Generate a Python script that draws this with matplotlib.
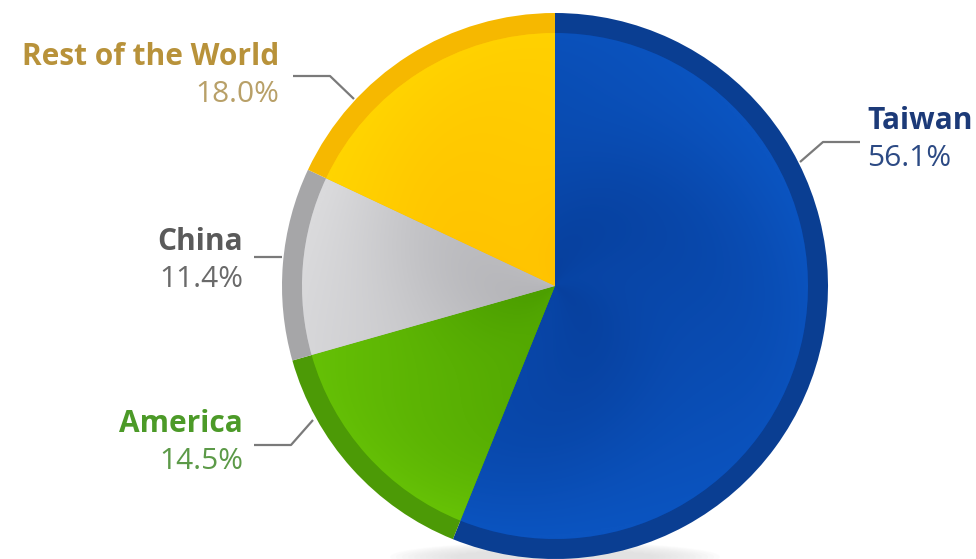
import numpy as np
import matplotlib
matplotlib.use("Agg")
import matplotlib.pyplot as plt
from matplotlib.colors import to_rgb

regions = ["Taiwan", "America", "China", "Rest of the World"]
shares = [56.1, 14.5, 11.4, 18.0]

ring_colors = ["#0a3e92", "#4c9a06", "#a6a6a8", "#f6b800"]
dark_colors = ["#073f9c", "#4a9c00", "#b2b2b6", "#ffbf00"]
light_colors = ["#0b54c0", "#68c406", "#dadadc", "#ffd400"]
name_colors = ["#1c3a78", "#4c9a28", "#5a5a5a", "#b8923a"]
pct_colors = ["#2c4a84", "#5c9a48", "#6a6a6a", "#b8a068"]

W, H = 976, 559
fig = plt.figure(figsize=(W / 100, H / 100), dpi=100)
ax = fig.add_axes([0, 0, 1, 1])
cx, cy, R = 555, 559 - 286, 273
ring = 20

# soft shadow under the pie
for i in range(12):
    e = matplotlib.patches.Ellipse((cx, 2), 330 - i * 12, 30 - i * 1.5,
                                   color="#d8d8d8", alpha=0.08, lw=0)
    ax.add_patch(e)

outer, _ = ax.pie(shares, radius=R, center=(cx, cy), startangle=90,
                  counterclock=False, colors=ring_colors,
                  wedgeprops=dict(linewidth=0))
inner, _ = ax.pie(shares, radius=R - ring, center=(cx, cy), startangle=90,
                  counterclock=False, colors=dark_colors,
                  wedgeprops=dict(linewidth=0))

# radial gradient shading in each inner wedge
n = 400
xs = np.linspace(cx - R, cx + R, n)
ys = np.linspace(cy - R, cy + R, n)
X, Y = np.meshgrid(xs, ys)
rr = np.hypot(X - cx, Y - cy) / (R - ring)
ang = np.arctan2(Y - cy, X - cx)
t = np.clip(0.15 + 0.8 * rr ** 1.6 + 0.08 * np.sin(3 * ang + 6 * rr), 0, 1)
for w, dc, lc in zip(inner, dark_colors, light_colors):
    d = np.array(to_rgb(dc)); l = np.array(to_rgb(lc))
    img = d[None, None, :] * (1 - t[..., None]) + l[None, None, :] * t[..., None]
    im = ax.imshow(img, extent=(cx - R, cx + R, cy - R, cy + R), origin="lower",
                   interpolation="bilinear", zorder=w.get_zorder() + 0.1)
    im.set_clip_path(w)

ax.set_xlim(0, W)
ax.set_ylim(0, H)
ax.set_aspect("equal")
ax.axis("off")

# labels: (name, x, baseline_name_y, align, leader points)
layout = {
    "Taiwan": dict(x=867, y=129, ha="left",
                   line=[(860, 142), (823, 142), (800, 162)]),
    "America": dict(x=243, y=432, ha="right",
                    line=[(254, 445), (291, 445), (313, 420)]),
    "China": dict(x=243, y=250, ha="right",
                  line=[(254, 257), (282, 257)]),
    "Rest of the World": dict(x=279, y=65, ha="right",
                              line=[(293, 76), (330, 76), (354, 99)]),
}
fs = 21.5
for name, val, nc, pc in zip(regions, shares, name_colors, pct_colors):
    L = layout[name]
    ax.text(L["x"], H - L["y"], name, ha=L["ha"], va="baseline", fontsize=fs,
            fontweight="bold", color=nc, family="Open Sans")
    ax.text(L["x"], H - L["y"] - 37, f"{val:.1f}%", ha=L["ha"], va="baseline",
            fontsize=fs, color=pc, family="Open Sans")
    px = [p[0] for p in L["line"]]
    py = [H - p[1] for p in L["line"]]
    ax.plot(px, py, color="#7a7a7a", lw=1.6, solid_capstyle="butt")

fig.savefig("out.png", dpi=100)
